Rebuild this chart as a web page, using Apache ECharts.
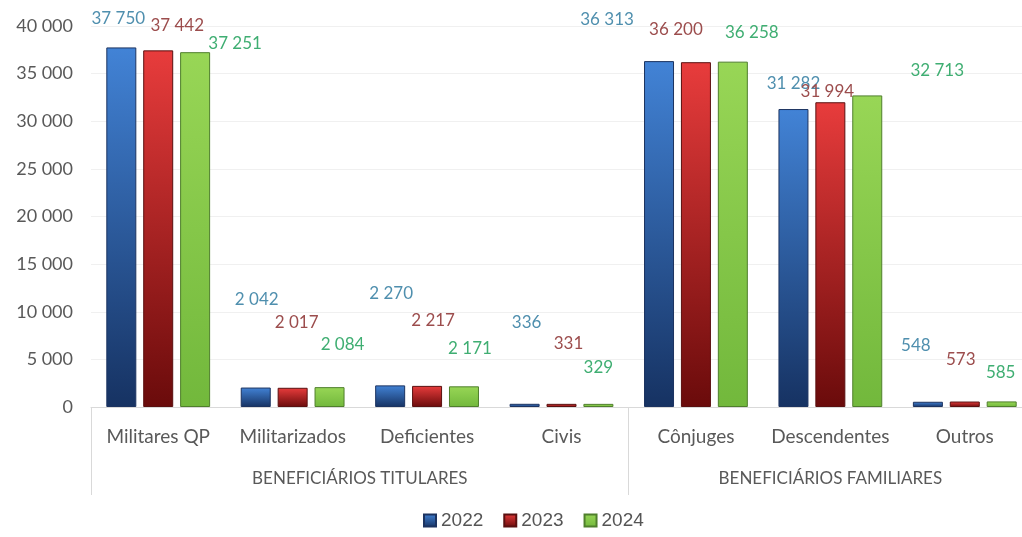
<!DOCTYPE html>
<html>
  <head>
    <meta charset="utf-8">
    <title></title>
    <style media="screen">
    html, body {margin:0; padding:0; background:#fff;}
    .box {width:1022px; height:537px;}
    </style>
    <script src="https://cdn.jsdelivr.net/npm/echarts@6/dist/echarts.min.js" charset="utf-8"></script>
    <script>
    let categorias = ['Militares QP', 'Militarizados', 'Deficientes', 'Civis', 'Cônjuges', 'Descendentes', 'Outros'];
    let grupos = ['BENEFICIÁRIOS TITULARES', 'BENEFICIÁRIOS FAMILIARES'];
    let anos = ['2022', '2023', '2024'];
    let v2022 = [37750, 2042, 2270, 336, 36313, 31282, 548];
    let v2023 = [37442, 2017, 2217, 331, 36200, 31994, 573];
    let v2024 = [37251, 2084, 2171, 329, 36258, 32713, 585];

    // where each value label sits (pixels, relative to the bar top)
    let desloc = [
      [[-3,-20],[1,-80],[1,-83],[2,-73],[-52,-33],[0,-17],[-12,-48]],
      [[19,-16],[4,-57],[6,-57],[7,-52],[-20,-24],[-3,-2],[-4,-34]],
      [[40,0],[13,-34],[6,-29],[0,-28],[19,-21],[70,-16],[-1,-20]]
    ];
    let cores = [
      {top:'#4283d6', bottom:'#163262', border:'#1c3360', label:'#4f8fae'},
      {top:'#e83c3c', bottom:'#6a0b0b', border:'#5a1010', label:'#9c4d4d'},
      {top:'#98d656', bottom:'#72b83c', border:'#4f7f2c', label:'#3fae72'}
    ];

    function fmt(v){
      return String(v).replace(/\B(?=(\d{3})+(?!\d))/g, ' ');
    }

    window.onload = function(){
      let chart = echarts.init(document.querySelector('.box'));
      let valores = [v2022, v2023, v2024];

      let series = anos.map((ano, s) => ({
        name: ano,
        type: 'bar',
        barWidth: 30,
        barGap: '23%',
        itemStyle: {
          color: new echarts.graphic.LinearGradient(0, 0, 0, 1, [
            {offset: 0, color: cores[s].top},
            {offset: 1, color: cores[s].bottom}
          ]),
          borderColor: cores[s].border,
          borderWidth: 1
        },
        data: valores[s].map((v, i) => ({
          value: v,
          label: {offset: desloc[s][i]}
        })),
        label: {
          show: true,
          position: 'top',
          distance: 0,
          color: cores[s].label,
          fontFamily: 'Lato',
          fontSize: 17,
          formatter: p => fmt(p.value)
        }
      }));

      let option = {
        animation: false,
        grid: {left: 91, right: -10, top: 26, bottom: 130, outerBoundsMode: 'none'},
        legend: {
          bottom: 2,
          left: 418,
          icon: 'rect',
          itemWidth: 12,
          itemHeight: 12,
          itemGap: 20,
          textStyle: {color: '#555', fontSize: 19, fontFamily: 'Liberation Sans'},
          data: anos
        },
        xAxis: [
          {
            type: 'category',
            data: categorias,
            axisLine: {lineStyle: {color: '#d9d9d9'}},
            axisTick: {
              show: true,
              length: 88,
              interval: (i) => i === 0 || i === 4 || i === 7,
              lineStyle: {color: '#d9d9d9'}
            },
            axisLabel: {color: '#595959', fontSize: 19, fontFamily: 'Lato', margin: 20, interval: 0}
          },
          {
            type: 'value',
            position: 'bottom',
            min: 0,
            max: 7,
            interval: 0.5,
            axisLine: {show: false},
            axisTick: {show: false},
            splitLine: {show: false},
            axisLabel: {
              color: '#595959',
              fontSize: 17,
              fontFamily: 'Lato',
              margin: 63,
              formatter: v => v === 2 ? grupos[0] : (v === 5.5 ? grupos[1] : '')
            }
          }
        ],
        yAxis: {
          type: 'value',
          min: 0,
          max: 40000,
          interval: 5000,
          axisLine: {show: false},
          axisTick: {show: false},
          splitLine: {lineStyle: {color: '#f0f0f0'}},
          axisLabel: {color: '#595959', fontSize: 18, fontFamily: 'Lato', margin: 18, formatter: v => fmt(v)}
        },
        series: series
      };
      chart.setOption(option);
    }
    </script>
  </head>
  <body>
    <div class="box"></div>
  </body>
</html>
